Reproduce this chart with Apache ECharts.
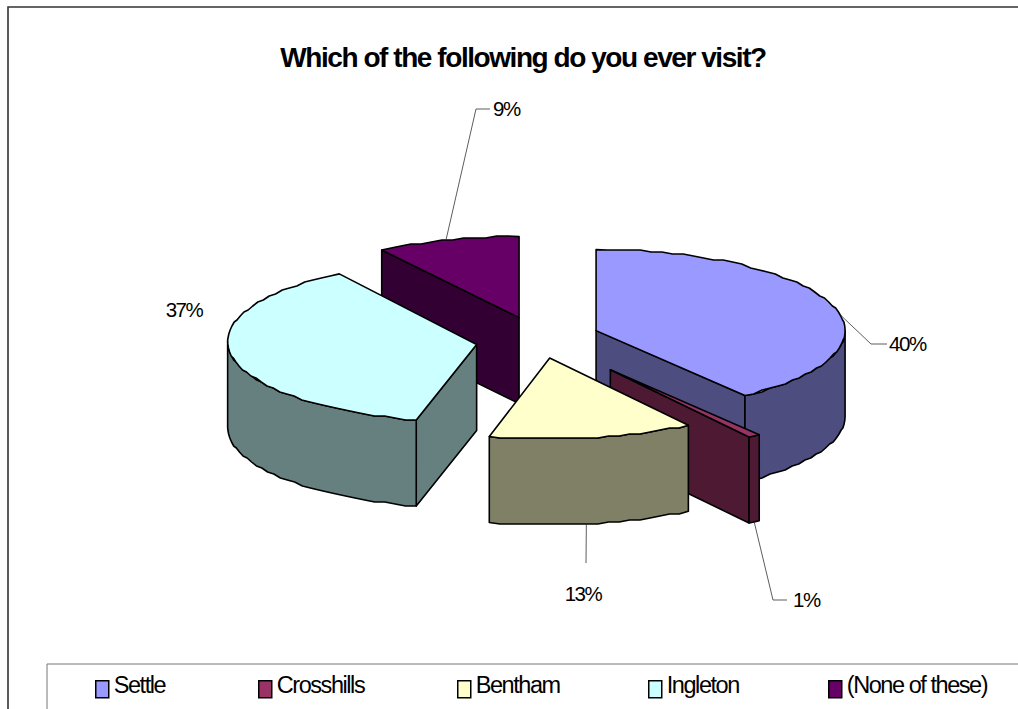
<!DOCTYPE html>
<html><head><meta charset="utf-8">
<style>
html,body{margin:0;padding:0;background:#fff;overflow:hidden}
#c{width:1018px;height:709px;letter-spacing:-0.09em}
</style>
<script src="https://cdn.jsdelivr.net/npm/echarts@6/dist/echarts.min.js"></script>
</head><body><div id="c"></div>
<script>
var titleText = 'Which of the following do you ever visit?';
var categories = ['Settle', 'Crosshills', 'Bentham', 'Ingleton', '(None of these)'];
var values = [39.8, 0.8, 13.3, 36.8, 9.3];
var topColors = ['#9999FF', '#993366', '#FFFFCC', '#CCFFFF', '#660066'];
var sideColors = ['#4D4D80', '#4D1933', '#808066', '#668080', '#330033'];
var explode = [0.25, 0.51, 0.25, 0.25, 0.25];
var nudgeX = [0, 0, 2, 1, 0];
var nudgeY = [1, 0, 2, 2, 1];
var apexDrop = [0, 0, 0, 3, 0];
var drawOrder = [4, 3, 0, 1, 2];
var labelLayout = [
  {x: 889, y: 343, align: 'left', arcAt: 0.55, wall: false, bend: [[871, 344], [887, 344]]},
  {x: 793, y: 599, align: 'left', arcAt: 0.5, wall: true, bend: [[773, 600], [787, 600]]},
  {x: 583, y: 593, align: 'center', arcAt: 0.53, wall: true, bend: [[586, 563]]},
  {x: 184, y: 309, align: 'center', arcAt: -1, wall: false, bend: []},
  {x: 493, y: 108, align: 'left', arcAt: 0.49, wall: false, bend: [[476, 109], [490, 109]]}
];
var legendLeft = [95, 258, 457, 648, 828];
var pie = {cx: 537, cy: 336, rx: 249, ry: 81, depth: 86};
var frame = {left: 8, top: 7, right: 1030, bottom: 730};
var legendBox = {left: 47, top: 664, right: 1030, bottom: 730};

var total = values.reduce(function (a, b) { return a + b; }, 0);
var starts = [], acc = 0;
values.forEach(function (v) { starts.push(acc / total * Math.PI * 2); acc += v; });

function pt(ox, oy, a, dy) {
  return [ox + pie.rx * Math.sin(a), oy - pie.ry * Math.cos(a) + (dy || 0)];
}
// Rim is snapped to a small pixel grid, like the slightly stepped rim of the original
function arcPts(ox, oy, a0, a1, dy) {
  var n = Math.max(1, Math.ceil(Math.abs(a1 - a0) / 0.045)), out = [];
  for (var i = 0; i <= n; i++) {
    var p = pt(ox, oy, a0 + (a1 - a0) * i / n, dy);
    if (i > 0 && i < n) p[1] = Math.round(p[1] / 2) * 2;
    out.push(p);
  }
  return out;
}
function renderSlice(idx) {
  return function () {
    var a0 = starts[idx], a1 = a0 + values[idx] / total * Math.PI * 2, mid = (a0 + a1) / 2;
    var ox = pie.cx + explode[idx] * pie.rx * Math.sin(mid) + nudgeX[idx];
    var oy = pie.cy - explode[idx] * pie.ry * Math.cos(mid) + nudgeY[idx];
    var apex = [ox, oy + apexDrop[idx]], d = pie.depth;
    var stroke = {stroke: '#000', lineWidth: 1.6, lineJoin: 'round'};
    var kids = [];
    function poly(points, fill) {
      kids.push({type: 'polygon', shape: {points: points},
        style: Object.assign({fill: fill}, stroke)});
    }
    var side = sideColors[idx], top = topColors[idx];
    if (Math.sin(a0) < -1e-6) {
      var p = pt(ox, oy, a0);
      poly([apex, p, [p[0], p[1] + d], [apex[0], apex[1] + d]], side);
    }
    if (Math.sin(a1) > 1e-6) {
      var q = pt(ox, oy, a1);
      poly([apex, q, [q[0], q[1] + d], [apex[0], apex[1] + d]], side);
    }
    var w0 = Math.max(a0, Math.PI / 2), w1 = Math.min(a1, Math.PI * 1.5);
    if (w1 > w0) {
      poly(arcPts(ox, oy, w0, w1).concat(arcPts(ox, oy, w1, w0, d)), side);
    }
    poly([apex].concat(arcPts(ox, oy, a0, a1)), top);
    var L = labelLayout[idx];
    if (L.arcAt >= 0) {
      var s = pt(ox, oy, a0 + (a1 - a0) * L.arcAt, L.wall ? d : 0);
      kids.push({type: 'polyline', shape: {points: [s].concat(L.bend)},
        style: {fill: null, stroke: '#333', lineWidth: 0.8}});
    }
    kids.push({type: 'text', style: {
      text: Math.round(values[idx]) + '%', x: L.x, y: L.y, align: L.align, verticalAlign: 'middle',
      fontFamily: '"Liberation Sans"', fontSize: 20.5, fill: '#000'}});
    return {type: 'group', children: kids};
  };
}
function rectLines(b, color, w) {
  return {type: 'rect', silent: true, shape: {x: b.left, y: b.top, width: b.right - b.left, height: b.bottom - b.top},
    style: {fill: 'none', stroke: color, lineWidth: w}};
}
var chart = echarts.init(document.getElementById('c'), null, {renderer: 'svg'});
chart.setOption({
  animation: false,
  backgroundColor: '#fff',
  title: {text: titleText, left: 518, top: 38, textAlign: 'center',
    textStyle: {fontFamily: '"Liberation Sans"', fontSize: 28, fontWeight: 'bold', color: '#000'}},
  graphic: [
    Object.assign(rectLines(frame, '#333', 1.6), {z: -10}),
    Object.assign(rectLines(legendBox, '#777', 1), {z: -9})
  ],
  legend: categories.map(function (name, i) {
    return {data: [{name: name, icon: 'path://M0 0h0v0zM0 8h13v17H0z', itemStyle: {color: topColors[i], borderColor: '#000', borderWidth: 1.5}}],
      left: legendLeft[i], top: 672, padding: 0, itemWidth: 13, itemHeight: 25, selectedMode: false,
      textStyle: {fontFamily: '"Liberation Sans"', fontSize: 23.5, color: '#000'}};
  }),
  series: drawOrder.map(function (idx, k) {
    return {type: 'custom', name: categories[idx], coordinateSystem: 'none', z: 2 + k, silent: true,
      data: [values[idx]], itemStyle: {color: topColors[idx]}, renderItem: renderSlice(idx)};
  })
});
</script></body></html>
